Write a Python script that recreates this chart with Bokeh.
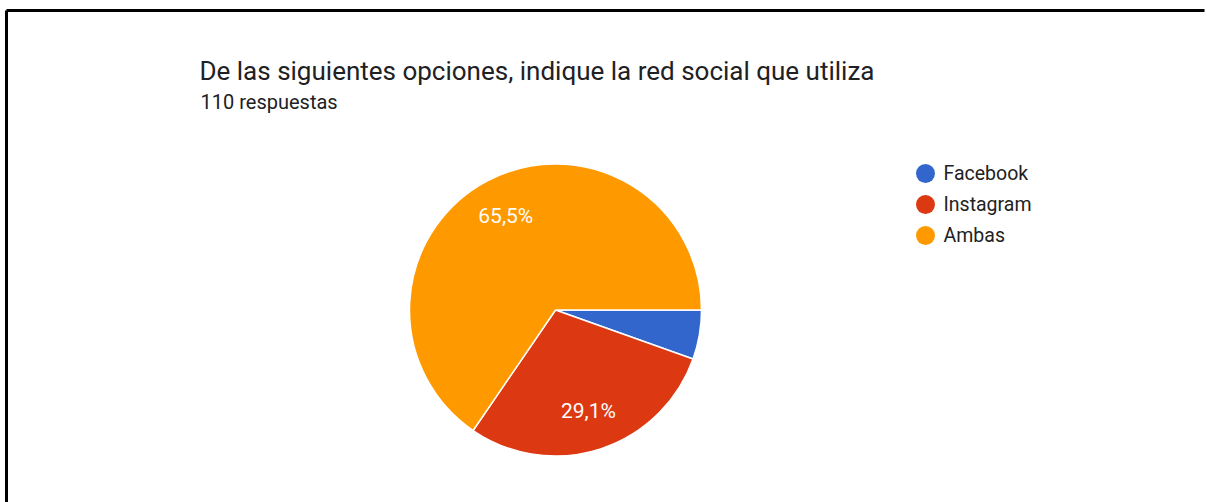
import math
from bokeh.plotting import figure
from bokeh.models import Range1d, ColumnDataSource
from bokeh.core.properties import value
from bokeh.embed import file_html
from bokeh.resources import INLINE

title = "De las siguientes opciones, indique la red social que utiliza"
subtitle = "110 respuestas"
categories = ["Facebook", "Instagram", "Ambas"]
counts = [6, 32, 72]
colors = ["#3366cc", "#dc3912", "#ff9900"]

W, H = 1207, 502
p = figure(width=W, height=H, output_backend="svg", toolbar_location=None,
           x_range=Range1d(0, W), y_range=Range1d(0, H), min_border=0)
p.axis.visible = False
p.grid.visible = False
p.outline_line_color = None
p.background_fill_color = "white"
p.border_fill_color = "white"

def Y(py):
    return H - py

# frame lines
p.segment(x0=[6], y0=[Y(10)], x1=[6], y1=[Y(H)], line_color="black", line_width=3)
p.segment(x0=[6], y0=[Y(10)], x1=[W - 3], y1=[Y(10)], line_color="black", line_width=3)

# pie (clockwise from 3 o'clock)
total = sum(counts)
cx, cy, r = 555, Y(309.5), 146
starts, ends, mids, pcts = [], [], [], []
cum = 0.0
for c in counts:
    a0 = -2 * math.pi * cum / total
    cum += c
    a1 = -2 * math.pi * cum / total
    starts.append(a1)
    ends.append(a0)
    mids.append((a0 + a1) / 2)
    pcts.append(100.0 * c / total)

src = ColumnDataSource(dict(start=starts, end=ends, color=colors))
p.wedge(x=cx, y=cy, radius=r, start_angle="start", end_angle="end",
        fill_color="color", line_color="white", line_width=1.5, source=src)

lx, ly, lt = [], [], []
for m, pc in zip(mids, pcts):
    if pc > 10:
        lx.append(cx + 0.73 * r * math.cos(m))
        ly.append(cy + 0.73 * r * math.sin(m))
        lt.append(f"{pc:.1f}%".replace(".", ","))
p.text(x=lx, y=ly, text=lt, text_color="#fdfdfd", text_font=value("Roboto"),
       text_font_size="21px", text_align="center", text_baseline="middle")

# titles
p.text(x=[199], y=[Y(70)], text=[title], text_color="#202124",
       text_font=value("Roboto"), text_font_size="26px",
       text_align="left", text_baseline="middle")
p.text(x=[200], y=[Y(101)], text=[subtitle], text_color="#202124",
       text_font=value("Roboto"), text_font_size="20px",
       text_align="left", text_baseline="middle")

# legend
lgy = [Y(173 + 31 * i) for i in range(len(categories))]
p.circle(x=[925] * len(categories), y=lgy, radius=9.5, fill_color=colors,
         line_color=None)
p.text(x=[943] * len(categories), y=lgy, text=categories, text_color="#222222",
       text_font=value("Roboto"), text_font_size="19.5px",
       text_align="left", text_baseline="middle")

open("out.html", "w").write(file_html(p, INLINE))
